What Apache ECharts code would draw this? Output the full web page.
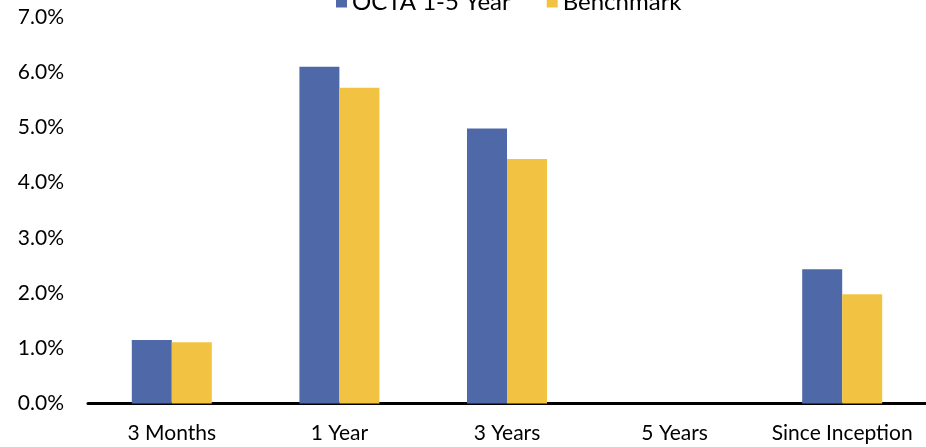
<!DOCTYPE html>
<html>
<head>
<meta charset="utf-8">
<script src="https://cdn.jsdelivr.net/npm/echarts@6/dist/echarts.min.js"></script>
<style>
  html, body { margin: 0; padding: 0; background: #ffffff; }
  #chart { width: 926px; height: 447px; }
</style>
</head>
<body>
<div id="chart"></div>
<script>
// periods along the x axis
const categories = ["3 Months", "1 Year", "3 Years", "5 Years", "Since Inception"];
// returns in percent, 5 Years has no value
const octaValues = [1.15, 6.10, 4.98, null, 2.43];
const benchmarkValues = [1.11, 5.72, 4.43, null, 1.98];
const seriesNames = ["OCTA 1-5 Year", "Benchmark"];
const yTicks = [0, 1, 2, 3, 4, 5, 6, 7];

let myChart = echarts.init(document.getElementById("chart"));

let option = {
  animation: false,
  textStyle: { fontFamily: "Lato" },
  legend: {
    top: -15,
    left: 331,
    itemWidth: 11,
    itemHeight: 11,
    itemGap: 36,
    icon: "rect",
    textStyle: { color: "#000000", fontSize: 24, fontFamily: "Lato" },
    data: seriesNames,
  },
  grid: {
    left: 88,
    top: 17,
    width: 843,
    bottom: 43.5,
    containLabel: false,
  },
  xAxis: {
    type: "category",
    data: categories,
    axisLine: { lineStyle: { color: "#000000", width: 3 } },
    axisTick: { show: false },
    axisLabel: {
      color: "#000000",
      fontSize: 21,
      margin: 19,
      interval: 0,
      hideOverlap: false,
    },
  },
  yAxis: {
    type: "value",
    min: yTicks[0],
    max: yTicks[yTicks.length - 1],
    interval: 1,
    axisLine: { show: false },
    axisTick: { show: false },
    splitLine: { show: false },
    axisLabel: {
      color: "#000000",
      fontSize: 21,
      margin: 24,
      formatter: (v) => v.toFixed(1) + "%",
    },
  },
  series: [
    {
      name: seriesNames[0],
      type: "bar",
      barWidth: 40,
      barGap: "0%",
      itemStyle: { color: "#4F69A8" },
      data: octaValues,
    },
    {
      name: seriesNames[1],
      type: "bar",
      barWidth: 40,
      barGap: "0%",
      itemStyle: { color: "#F2C343" },
      data: benchmarkValues,
    },
  ],
};

myChart.setOption(option);
</script>
</body>
</html>
